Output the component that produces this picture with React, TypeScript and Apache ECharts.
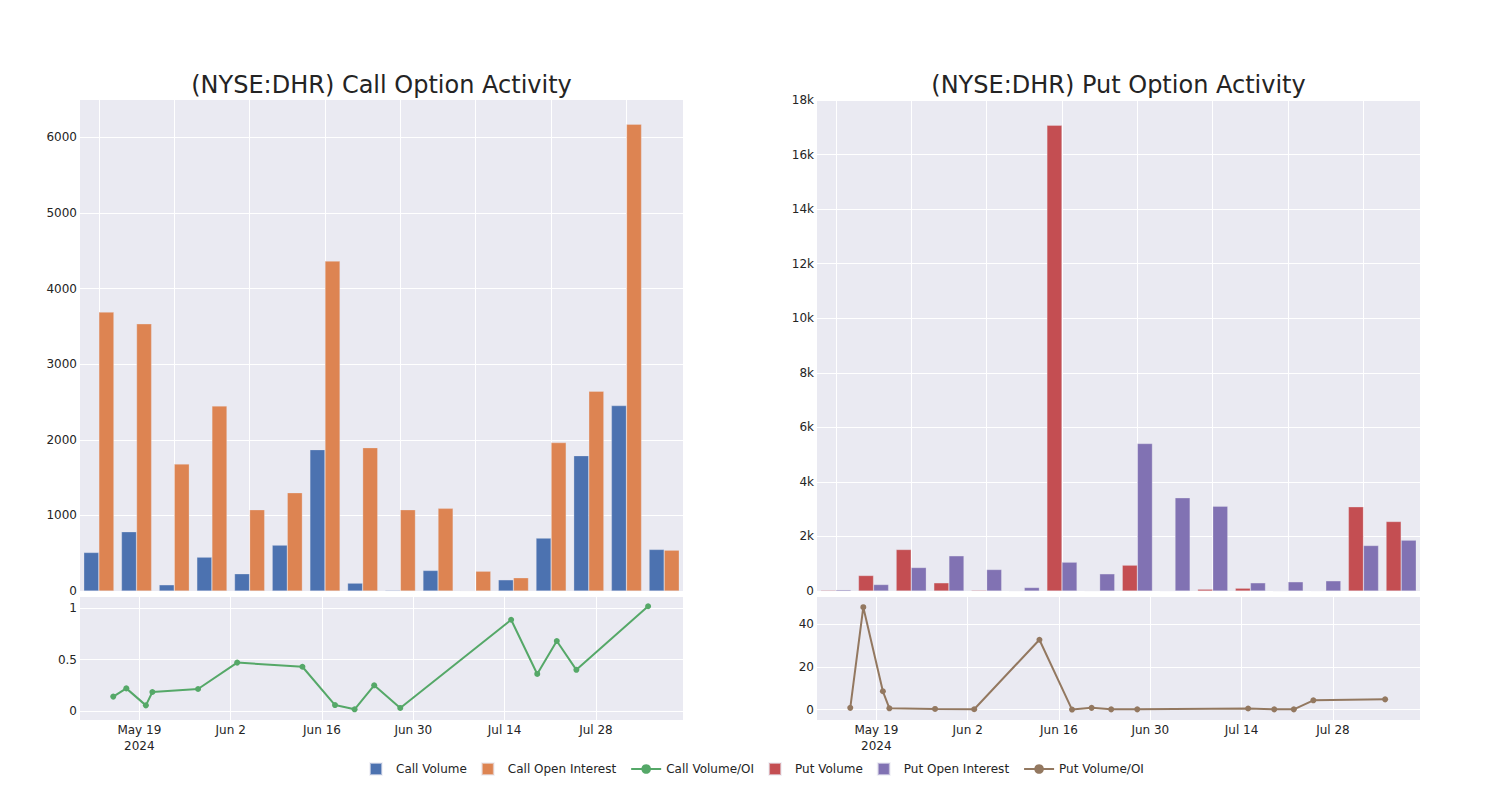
import React, { useEffect, useRef } from "react";
import * as echarts from "echarts";

const dates = [
  "2024-05-15", "2024-05-17", "2024-05-20", "2024-05-21", "2024-05-28", "2024-06-03",
  "2024-06-13", "2024-06-18", "2024-06-21", "2024-06-24", "2024-06-28", "2024-07-15",
  "2024-07-19", "2024-07-22", "2024-07-25", "2024-08-05",
];
const callVolume = [510, 784, 82, 448, 228, 607, 1870, 104, 10, 272, 5, 148, 700, 1790, 2453, 550];
const callOpenInterest = [3689, 3534, 1680, 2448, 1075, 1300, 4364, 1896, 1075, 1093, 262, 175, 1963, 2642, 6175, 540];
const callVolOI = [0.14, 0.22, 0.055, 0.185, 0.214, 0.47, 0.43, 0.058, 0.017, 0.25, 0.03, 0.886, 0.36, 0.68, 0.40, 1.017];
const putVolume = [30, 568, 1521, 300, 30, 8, 17075, 8, 947, 10, 66, 103, 0, 10, 3086, 2548];
const putOpenInterest = [44, 238, 861, 1290, 788, 128, 1057, 630, 5407, 3416, 3110, 300, 337, 374, 1668, 1864];
const putVolOI = [0.8, 48.1, 8.6, 0.6, 0.3, 0.15, 32.8, 0.0, 0.8, 0.1, 0.1, 0.5, 0.1, 0.1, 4.35, 4.8];
const dateTicks = ["2024-05-19", "2024-06-02", "2024-06-16", "2024-06-30", "2024-07-14", "2024-07-28"];
const callBarTicks = [0, 1000, 2000, 3000, 4000, 5000, 6000];
const putBarTicks = [0, 2000, 4000, 6000, 8000, 10000, 12000, 14000, 16000, 18000];
const callRatioTicks = [0, 0.5, 1];
const putRatioTicks = [0, 20, 40];

const MONTHS = ["Jan", "Feb", "Mar", "Apr", "May", "Jun", "Jul", "Aug", "Sep", "Oct", "Nov", "Dec"];
const DAY = 86400000;
const ts = (d: string) => new Date(d + "T00:00:00Z").getTime();

const COLORS = {
  callVol: "rgb(76,114,176)",
  callOI: "rgb(221,132,82)",
  callRatio: "rgb(85,168,104)",
  putVol: "rgb(196,78,82)",
  putOI: "rgb(129,114,179)",
  putRatio: "rgb(147,120,96)",
};
const BG = "rgb(234,234,242)";
const TEXT = "rgb(36,36,36)";
const FONT = "DejaVu Sans";

export default function App() {
  const ref = useRef<HTMLDivElement>(null);
  useEffect(() => {
    if (!ref.current) return;
    const chart = echarts.init(ref.current, undefined, { renderer: "svg" });
    const firstTick = ts(dateTicks[0]);
    const xMin = firstTick - 9.1 * DAY;
    const xMax = firstTick + 83.35 * DAY;
    const tickVals = dateTicks.map(ts);
    const catTicks = [0, 2, 4, 6, 8, 10, 12, 14];

    const grids = [
      { left: 80, top: 100, width: 603, height: 491 },
      { left: 80, top: 597, width: 603, height: 123 },
      { left: 817, top: 100, width: 603, height: 491 },
      { left: 817, top: 597, width: 603, height: 123 },
    ].map((g) => ({ ...g, show: true, backgroundColor: BG, borderWidth: 0, containLabel: false }));

    const split = { show: true, lineStyle: { color: "#ffffff", width: 1 } };
    const lbl = { color: TEXT, fontFamily: FONT, fontSize: 12 };

    const barX = (gi: number) => ({
      type: "value",
      gridIndex: gi,
      min: -0.5,
      max: 15.5,
      axisLine: { show: false },
      axisTick: { show: false, customValues: catTicks },
      axisLabel: { show: false, customValues: catTicks },
      splitLine: split,
    });
    const dateX = (gi: number) => ({
      type: "value",
      gridIndex: gi,
      min: xMin,
      max: xMax,
      axisLine: { show: false },
      axisTick: { show: false, customValues: tickVals },
      axisLabel: {
        ...lbl,
        margin: 2,
        lineHeight: 16,
        customValues: tickVals,
        formatter: (v: number) => {
          const d = new Date(v);
          const s = MONTHS[d.getUTCMonth()] + " " + d.getUTCDate();
          return Math.abs(v - firstTick) < 1000 ? s + "\n2024" : s;
        },
      },
      splitLine: split,
    });
    const yAx = (gi: number, min: number, max: number, ticks: number[], fmt?: (v: number) => string) => ({
      type: "value",
      gridIndex: gi,
      min,
      max,
      axisLine: { show: false },
      axisTick: { show: false, customValues: ticks },
      axisLabel: { ...lbl, margin: 3, customValues: ticks, formatter: fmt },
      splitLine: split,
    });

    const barStyle = (c: string) => ({ color: c, borderColor: "rgba(234,234,242,0.6)", borderWidth: 0.5 });
    const sq = "path://M0,0h10v10h-10z";

    chart.setOption({
      animation: false,
      textStyle: { fontFamily: FONT },
      grid: grids,
      xAxis: [barX(0), dateX(1), barX(2), dateX(3)],
      yAxis: [
        yAx(0, 0, 6495, callBarTicks, (v: number) => String(v)),
        yAx(1, -0.087, 1.107, callRatioTicks, (v: number) => String(v)),
        yAx(2, 0, 18000, putBarTicks, (v: number) => (v === 0 ? "0" : v / 1000 + "k")),
        yAx(3, -4.9, 52.9, putRatioTicks, (v: number) => String(v)),
      ],
      legend: {
        left: 364,
        top: 757,
        itemWidth: 30,
        itemHeight: 12,
        itemGap: 14,
        textStyle: { ...lbl },
        data: [
          { name: "Call Volume", icon: sq },
          { name: "Call Open Interest", icon: sq },
          { name: "Call Volume/OI" },
          { name: "Put Volume", icon: sq },
          { name: "Put Open Interest", icon: sq },
          { name: "Put Volume/OI" },
        ],
      },
      graphic: [
        {
          type: "text",
          x: 381.5,
          y: 85,
          style: { text: "(NYSE:DHR) Call Option Activity", font: `24px "${FONT}"`, fill: TEXT, align: "center", verticalAlign: "middle" },
        },
        {
          type: "text",
          x: 1118.5,
          y: 85,
          style: { text: "(NYSE:DHR) Put Option Activity", font: `24px "${FONT}"`, fill: TEXT, align: "center", verticalAlign: "middle" },
        },
      ],
      series: [
        {
          name: "Call Volume",
          type: "bar",
          xAxisIndex: 0,
          yAxisIndex: 0,
          barGap: "0%",
          barCategoryGap: "20%",
          itemStyle: barStyle(COLORS.callVol),
          data: callVolume.map((v, i) => [i, v]),
        },
        {
          name: "Call Open Interest",
          type: "bar",
          xAxisIndex: 0,
          yAxisIndex: 0,
          barGap: "0%",
          barCategoryGap: "20%",
          itemStyle: barStyle(COLORS.callOI),
          data: callOpenInterest.map((v, i) => [i, v]),
        },
        {
          name: "Call Volume/OI",
          type: "line",
          xAxisIndex: 1,
          yAxisIndex: 1,
          symbol: "circle",
          symbolSize: 6,
          color: COLORS.callRatio,
          lineStyle: { width: 2, color: COLORS.callRatio },
          itemStyle: { color: COLORS.callRatio },
          data: callVolOI.map((v, i) => [ts(dates[i]), v]),
        },
        {
          name: "Put Volume",
          type: "bar",
          xAxisIndex: 2,
          yAxisIndex: 2,
          barGap: "0%",
          barCategoryGap: "20%",
          itemStyle: barStyle(COLORS.putVol),
          data: putVolume.map((v, i) => [i, v]),
        },
        {
          name: "Put Open Interest",
          type: "bar",
          xAxisIndex: 2,
          yAxisIndex: 2,
          barGap: "0%",
          barCategoryGap: "20%",
          itemStyle: barStyle(COLORS.putOI),
          data: putOpenInterest.map((v, i) => [i, v]),
        },
        {
          name: "Put Volume/OI",
          type: "line",
          xAxisIndex: 3,
          yAxisIndex: 3,
          symbol: "circle",
          symbolSize: 6,
          color: COLORS.putRatio,
          lineStyle: { width: 2, color: COLORS.putRatio },
          itemStyle: { color: COLORS.putRatio },
          data: putVolOI.map((v, i) => [ts(dates[i]), v]),
        },
      ],
    });
    return () => chart.dispose();
  }, []);
  return <div ref={ref} style={{ position: "absolute", left: 0, top: 0, width: 1500, height: 800 }} />;
}
